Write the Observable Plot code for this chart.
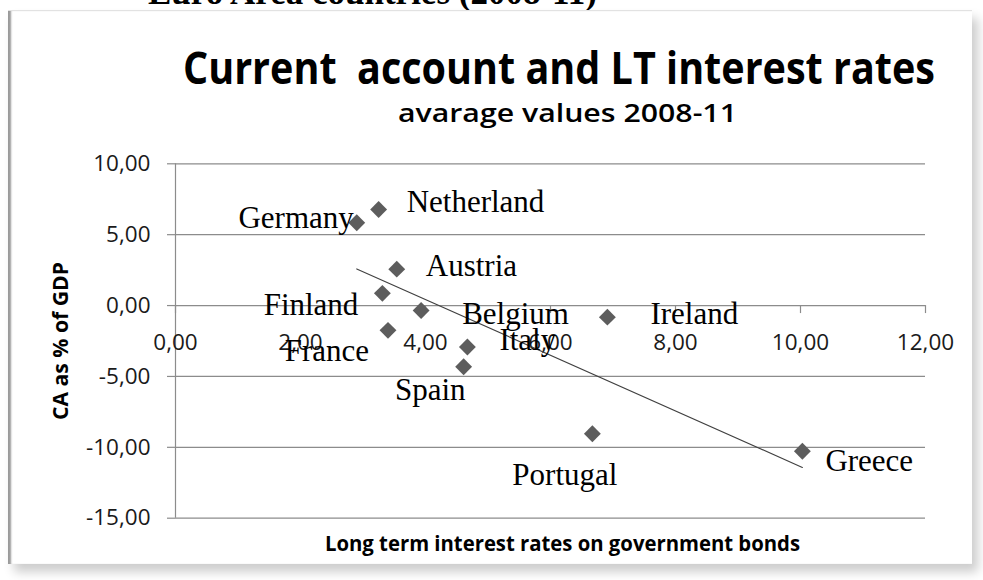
<!DOCTYPE html>
<html>
<head>
<meta charset="utf-8">
<script src="https://cdn.jsdelivr.net/npm/d3@7"></script>
<script src="https://cdn.jsdelivr.net/npm/@observablehq/plot@0.6"></script>
<style>
  html, body { margin: 0; padding: 0; background: #fff; }
  body { width: 983px; height: 580px; overflow: hidden; position: relative; font-family: "Open Sans", sans-serif; }
  #frame { position: absolute; left: 8px; top: 10px; width: 964px; height: 553px; background: #fff;
           border-top: 1px solid #e2e2e2;
           box-shadow: 6px 8px 10px rgba(0,0,0,0.20), inset 4px 0 2px -1px #9a9a9a; }
  .txt { position: absolute; white-space: pre; line-height: 1; color: #000; transform-origin: left top; }
  #topline { left: 148px; top: -25px; font-family: "Liberation Serif", serif; font-weight: bold; font-size: 35px; }
  #title { font-weight: 700; font-size: 44px; }
  #subtitle { font-weight: 600; font-size: 26px; }
  #xlabel { font-weight: 700; font-size: 21.5px; }
  #ylabel { font-weight: 700; font-size: 22px; }
  #chart { position: absolute; left: 0; top: 0; }
</style>
</head>
<body>
<div id="topline" class="txt">Euro Area countries (2008-11)</div>
<div id="frame"></div>
<div id="chart"></div>
<div id="title" class="txt">Current  account and LT interest rates</div>
<div id="subtitle" class="txt">avarage values 2008-11</div>
<div id="xlabel" class="txt">Long term interest rates on government bonds</div>
<div id="ylabel" class="txt">CA as % of GDP</div>
<script>
// ---- data ----
const countries = ["Germany", "Netherland", "Austria", "Finland", "Belgium", "France", "Italy", "Spain", "Ireland", "Portugal", "Greece"];
const interestRates = [2.90, 3.25, 3.54, 3.31, 3.93, 3.40, 4.67, 4.61, 6.91, 6.67, 10.03];
const currentAccount = [5.84, 6.78, 2.57, 0.86, -0.35, -1.75, -2.92, -4.32, -0.82, -9.04, -10.28];
const xTicks = [0, 2, 4, 6, 8, 10, 12];
const yTicks = [-15, -10, -5, 0, 5, 10];

const data = countries.map((c, i) => ({country: c, rate: interestRates[i], ca: currentAccount[i]}));

// label nudges (style only)
const labelPlacement = {
  Germany:    {textAnchor: "end",   dx: -3,  dy: -5},
  Netherland: {textAnchor: "start", dx: 28,  dy: -7},
  Austria:    {textAnchor: "start", dx: 29,  dy: -3},
  Finland:    {textAnchor: "end",   dx: -24, dy: 12},
  Belgium:    {textAnchor: "start", dx: 41,  dy: 4},
  France:     {textAnchor: "end",   dx: -19, dy: 21},
  Italy:      {textAnchor: "start", dx: 32,  dy: -7},
  Spain:      {textAnchor: "end",   dx: 2,   dy: 23},
  Ireland:    {textAnchor: "start", dx: 43,  dy: -3},
  Portugal:   {textAnchor: "end",   dx: 25,  dy: 41},
  Greece:     {textAnchor: "start", dx: 23,  dy: 10}
};

const fmt = d => d3.format(".2f")(d).replace(".", ",").replace("\u2212", "-");
const gridColor = "#8c8c8c";

const labelMarks = countries.map(c => Plot.text(data.filter(d => d.country === c), {
  x: "rate", y: "ca", text: "country",
  fontFamily: "Liberation Serif, Times New Roman, serif", fontSize: 31, fill: "#000",
  ...labelPlacement[c]
}));

const chart = Plot.plot({
  width: 983,
  height: 580,
  marginLeft: 175,
  marginRight: 58,
  marginTop: 163.3,
  marginBottom: 62.3,
  style: {fontFamily: "Open Sans, sans-serif", background: "transparent", overflow: "visible"},
  x: {domain: [0, 12], axis: null},
  y: {domain: [-15, 10], axis: null},
  marks: [
    Plot.ruleY(yTicks, {y: d => d, stroke: gridColor, strokeWidth: 1.2}),
    Plot.ruleX([0], {x: d => d, stroke: gridColor, strokeWidth: 1.2}),
    Plot.axisY(yTicks, {tickSize: 8, tickPadding: 17, tickFormat: fmt, fontSize: 22.5, fill: "#1a1a1a", stroke: gridColor, strokeWidth: 1.2, label: null}),
    Plot.ruleX(xTicks, {x: d => d, y1: 0, y2: 0, insetBottom: -8, stroke: gridColor, strokeWidth: 1.2}),
    Plot.text(xTicks, {x: d => d, y: 0, text: d => fmt(d), dy: 37.5, fontSize: 22.5, fill: "#1a1a1a"}),
    Plot.linearRegressionY(data, {x: "rate", y: "ca", stroke: "#404040", strokeWidth: 1.1, ci: 0}),
    Plot.dot(data, {x: "rate", y: "ca", symbol: "diamond2", r: 7.6, fill: "#5d5d5d", stroke: "none"}),
    ...labelMarks
  ]
});
document.getElementById("chart").appendChild(chart);

// fit html text blocks to the reference extents
function place(id, left, capMid, targetWidth) {
  const el = document.getElementById(id);
  const fs = parseFloat(getComputedStyle(el).fontSize);
  const w = el.getBoundingClientRect().width;
  const top = capMid - 0.531 * fs;
  el.style.left = left + "px";
  el.style.top = top + "px";
  el.style.transform = `scaleX(${targetWidth / w})`;
}
place("title", 183, 68, 752);
place("subtitle", 398, 113, 339);
place("xlabel", 325, 543, 475);

// rotated y label
(function () {
  const el = document.getElementById("ylabel");
  const w = el.getBoundingClientRect().width;
  const h = el.getBoundingClientRect().height;
  const target = 158, cx = 59, cy = 341;
  el.style.transformOrigin = "center center";
  el.style.left = (cx - w / 2) + "px";
  el.style.top = (cy - h / 2) + "px";
  el.style.transform = `rotate(-90deg) scaleX(${target / w})`;
})();
</script>
</body>
</html>
